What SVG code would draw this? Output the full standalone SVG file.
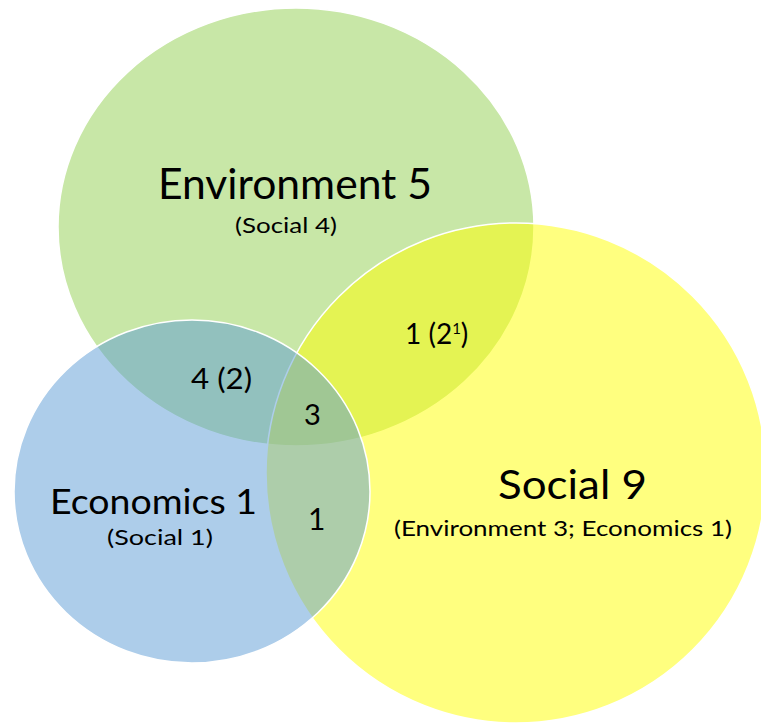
<svg xmlns="http://www.w3.org/2000/svg" width="761" height="726" viewBox="0 0 761 726">
  <style>
    .set { fill-opacity: 0.5; stroke: #ffffff; stroke-width: 1.5; }
    .lbl { font-family: "Lato", "Open Sans", sans-serif; fill: #000000; }
  </style>
  <rect width="761" height="726" fill="#ffffff"/>

  <!-- Environment set -->
  <g id="environment">
    <ellipse class="set" cx="296" cy="227" rx="238" ry="219" fill="#92D050"/>
  </g>

  <!-- Social set -->
  <g id="social">
    <ellipse class="set" cx="516" cy="473" rx="250" ry="250" fill="#FFFF00"/>
  </g>

  <!-- Economics set -->
  <g id="economics">
    <ellipse class="set" cx="192" cy="491.5" rx="178" ry="171.5" fill="#5B9BD5"/>
  </g>

  <!-- Set labels -->
  <g id="environment-label">
    <text class="lbl" x="158" y="199" font-size="42" textLength="274" lengthAdjust="spacingAndGlyphs">Environment 5</text>
    <text class="lbl" x="235" y="233" font-size="22" textLength="102" lengthAdjust="spacingAndGlyphs">(Social 4)</text>
  </g>
  <g id="economics-label">
    <text class="lbl" x="50" y="514" font-size="35" textLength="207" lengthAdjust="spacingAndGlyphs">Economics 1</text>
    <text class="lbl" x="107" y="545" font-size="22" textLength="106" lengthAdjust="spacingAndGlyphs">(Social 1)</text>
  </g>
  <g id="social-label">
    <text class="lbl" x="498" y="499" font-size="40" textLength="149" lengthAdjust="spacingAndGlyphs">Social 9</text>
    <text class="lbl" x="394" y="536" font-size="22" textLength="338" lengthAdjust="spacingAndGlyphs">(Environment 3; Economics 1)</text>
  </g>

  <!-- Overlap counts -->
  <g id="env-econ">
    <text class="lbl" x="191" y="389" font-size="28" textLength="61" lengthAdjust="spacingAndGlyphs">4 (2)</text>
  </g>
  <g id="env-social">
    <text class="lbl" x="405" y="344" font-size="28">1 (2<tspan font-size="15" dy="-10">1</tspan><tspan dy="10">)</tspan></text>
  </g>
  <g id="all-three">
    <text class="lbl" x="304" y="425" font-size="29">3</text>
  </g>
  <g id="econ-social">
    <text class="lbl" x="308" y="530" font-size="30">1</text>
  </g>
</svg>
